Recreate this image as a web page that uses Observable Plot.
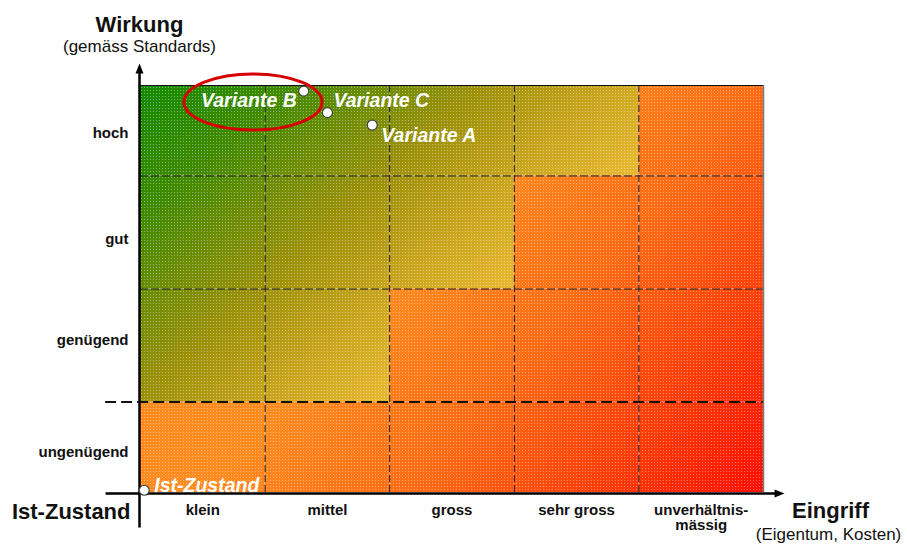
<!DOCTYPE html>
<html><head><meta charset="utf-8">
<script src="https://cdn.jsdelivr.net/npm/d3@7"></script>
<script src="https://cdn.jsdelivr.net/npm/@observablehq/plot@0.6"></script>
<style>body{margin:0;background:#fff} svg{display:block}</style>
</head><body><div id="chart"></div>
<script>
// ---- data ----
const columns = ["klein", "mittel", "gross", "sehr gross", "unverhältnis-\nmässig"];
const rows = ["ungenügend", "genügend", "gut", "hoch"];
const rowBounds = [0, 0.8, 1.8, 2.8, 3.6];
const rowTicks = [0.36, 1.35, 2.24, 3.18];
const colTicks = [0.5, 1.5, 2.5, 3.5, 4.5];
const greenCols = [0, 2, 3, 4]; // per row: how many columns are in the "good" zone
const points = [
  {name: "Ist-Zustand", x: 0.03, y: 0.02},
  {name: "Variante B", x: 1.31, y: 3.55},
  {name: "Variante C", x: 1.50, y: 3.36},
  {name: "Variante A", x: 1.86, y: 3.25}
];
const highlight = [{x: 0.907, y: 3.45, rx: 0.554, ry: 0.248}];
const axisTitles = {y: "Wirkung", ySub: "(gemäss Standards)", x: "Eingriff", xSub: "(Eigentum, Kosten)", origin: "Ist-Zustand"};

const cells = rows.flatMap((r, i) => columns.map((c, j) => ({
  row: r, col: c, x1: j, x2: j + 1, y1: rowBounds[i], y2: rowBounds[i + 1],
  zone: j < greenCols[i] ? "good" : "bad"
})));

const FONT = "'Liberation Sans', Arial, Helvetica, sans-serif";

const defsMark = (index, {x, y}) => {
  const d = d3.create("svg:defs");
  const g1 = d.append("linearGradient").attr("id", "gGood").attr("gradientUnits", "userSpaceOnUse")
    .attr("x1", x(0)).attr("y1", y(3.6)).attr("x2", x(2.64)).attr("y2", y(0.43));
  [[0, "#128a00"], [0.2, "#3f8a00"], [0.47, "#9a9008"], [0.65, "#c8a41c"], [0.8, "#e4b62e"], [1, "#ecba32"]]
    .forEach(([o, c]) => g1.append("stop").attr("offset", o).attr("stop-color", c));
  const g2 = d.append("linearGradient").attr("id", "gBad").attr("gradientUnits", "userSpaceOnUse")
    .attr("x1", x(2.49)).attr("y1", y(2.41)).attr("x2", x(5)).attr("y2", y(0));
  [[0, "#ff8a1e"], [0.35, "#ff6c14"], [0.7, "#ff3c08"], [1, "#ff0e00"]]
    .forEach(([o, c]) => g2.append("stop").attr("offset", o).attr("stop-color", c));
  const p = d.append("pattern").attr("id", "dots").attr("patternUnits", "userSpaceOnUse")
    .attr("width", 3).attr("height", 3);
  p.append("rect").attr("x", 0).attr("y", 0).attr("width", 1).attr("height", 1).attr("fill", "white").attr("fill-opacity", 0.4);
  return d.node();
};

const ellipseMark = (index, {x, y}) => {
  const g = d3.create("svg:g");
  g.selectAll("ellipse").data(highlight).join("ellipse")
    .attr("cx", d => x(d.x)).attr("cy", d => y(d.y))
    .attr("rx", d => x(d.x + d.rx) - x(d.x)).attr("ry", d => y(d.y - d.ry) - y(d.y))
    .attr("fill", "none").attr("stroke", "#d60000").attr("stroke-width", 3);
  return g.node();
};

const arrowUp = {draw(ctx) { ctx.moveTo(0, 0); ctx.lineTo(4, 10); ctx.lineTo(-4, 10); ctx.closePath(); }};
const arrowRight = {draw(ctx) { ctx.moveTo(0, 0); ctx.lineTo(-10, -4); ctx.lineTo(-10, 4); ctx.closePath(); }};

const lbl = (name, opts) => Plot.text(points.filter(d => d.name === name), {
  x: "x", y: "y", text: "name", fill: "white", fontWeight: "bold", fontStyle: "italic",
  fontSize: 19.5, ...opts
});

const plot = Plot.plot({
  width: 907, height: 545,
  marginLeft: 140, marginRight: 144, marginTop: 85, marginBottom: 53,
  x: {domain: [0, 5], axis: null},
  y: {domain: [0, 3.6], axis: null},
  style: {fontFamily: FONT, background: "white", overflow: "visible"},
  marks: [
    defsMark,
    Plot.rect(cells.filter(d => d.zone === "good"), {x1: "x1", x2: "x2", y1: "y1", y2: "y2", fill: "url(#gGood)"}),
    Plot.rect(cells.filter(d => d.zone === "bad"), {x1: "x1", x2: "x2", y1: "y1", y2: "y2", fill: "url(#gBad)"}),
    Plot.rect(cells, {x1: "x1", x2: "x2", y1: "y1", y2: "y2", fill: "url(#dots)"}),
    Plot.ruleX(colTicks.slice(0, 4).map(d => d + 0.5), {y1: 0, y2: 3.6, stroke: "#1a1a1a", strokeDasharray: "7,3", strokeWidth: 1}),
    Plot.ruleY(rowBounds.slice(2, 4), {x1: 0, x2: 5, stroke: "#1a1a1a", strokeDasharray: "8,3", strokeWidth: 1}),
    Plot.ruleY([rowBounds[1]], {x1: -0.28, x2: 5, stroke: "#111", strokeDasharray: "11,5", strokeWidth: 2}),
    Plot.ruleY([3.6], {x1: 0, x2: 5, stroke: "#111", strokeWidth: 1}),
    Plot.ruleX([5], {y1: 0, y2: 3.6, stroke: "#777", strokeWidth: 1.5}),
    // axes with arrows
    Plot.link([0], {x1: -0.008, x2: -0.008, y1: -0.31, y2: 3.72, stroke: "black", strokeWidth: 2.5}),
    Plot.link([0], {x1: -0.28, x2: 5.1, y1: -0.009, y2: -0.009, stroke: "black", strokeWidth: 2.5}),
    Plot.dot([0], {x: -0.008, y: 3.794, symbol: arrowUp, fill: "black", stroke: "none"}),
    Plot.dot([0], {x: 5.169, y: -0.009, symbol: arrowRight, fill: "black", stroke: "none"}),
    // tick labels
    Plot.text(columns, {x: (d, i) => colTicks[i], text: d => d, frameAnchor: "bottom", lineAnchor: "top",
      dy: 11, fontSize: 15, fontWeight: "bold", fill: "#111", lineHeight: 1.05}),
    Plot.text(rows, {y: (d, i) => rowTicks[i], text: d => d, frameAnchor: "left", textAnchor: "end",
      dx: -12, fontSize: 15, fontWeight: "bold", fill: "#111"}),
    // axis titles
    Plot.text([axisTitles.y], {frameAnchor: "top-left", text: d => d, textAnchor: "middle", lineAnchor: "middle",
      dx: -1, dy: -61, fontSize: 22, fontWeight: "bold", fill: "#111"}),
    Plot.text([axisTitles.ySub], {frameAnchor: "top-left", text: d => d, textAnchor: "middle", lineAnchor: "middle",
      dx: -1, dy: -39, fontSize: 17, fill: "#111"}),
    Plot.text([axisTitles.origin], {frameAnchor: "bottom-left", text: d => d, textAnchor: "end", lineAnchor: "middle",
      dx: -10, dy: 19, fontSize: 22, fontWeight: "bold", fill: "#111"}),
    Plot.text([axisTitles.x], {frameAnchor: "bottom-right", text: d => d, textAnchor: "middle", lineAnchor: "middle",
      dx: 67, dy: 18, fontSize: 22, fontWeight: "bold", fill: "#111"}),
    Plot.text([axisTitles.xSub], {frameAnchor: "bottom-right", text: d => d, textAnchor: "middle", lineAnchor: "middle",
      dx: 65, dy: 42, fontSize: 17, fill: "#111"}),
    // highlight ellipse, points and labels
    ellipseMark,
    Plot.dot(points, {x: "x", y: "y", r: 5, fill: "white", stroke: "#444", strokeWidth: 1.2}),
    lbl("Variante B", {textAnchor: "end", dx: -7, dy: 10}),
    lbl("Variante C", {textAnchor: "start", dx: 6, dy: -12}),
    lbl("Variante A", {textAnchor: "start", dx: 9, dy: 11}),
    lbl("Ist-Zustand", {textAnchor: "start", dx: 10, dy: -4})
  ]
});
document.getElementById("chart").appendChild(plot);
</script>
</body></html>
